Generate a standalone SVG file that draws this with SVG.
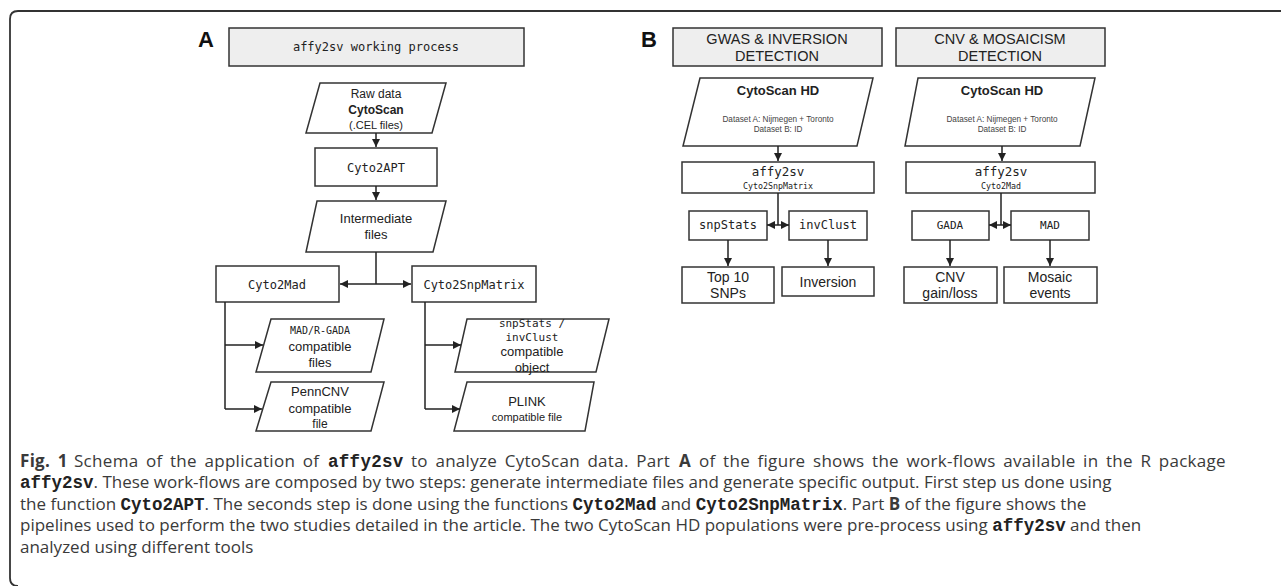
<svg xmlns="http://www.w3.org/2000/svg" width="1281" height="586" viewBox="0 0 1281 586">
<style>
.box{fill:#fff;stroke:#333;stroke-width:1.5}
.tbox{fill:#eee;stroke:#333;stroke-width:1.5}
.ln{fill:none;stroke:#222;stroke-width:1.5}
.s{font-family:"Liberation Sans",Arial,sans-serif;fill:#222;text-anchor:middle}
.m{font-family:"DejaVu Sans Mono","Liberation Mono",monospace;fill:#222;text-anchor:middle}
.b{font-weight:bold}
.g{fill:#444}
.cap{font-family:"Open Sans","Noto Sans",sans-serif;font-size:17px;fill:#3a3a3a}
.cm{font-family:"Liberation Mono","Courier New",monospace;font-weight:bold;font-size:17.5px;fill:#222}
</style>
<defs>
<marker id="ar" markerWidth="8" markerHeight="8" refX="8" refY="4" orient="auto" markerUnits="userSpaceOnUse"><path d="M0,0 L8,4 L0,8 z" fill="#222"/></marker>
</defs>
<path d="M1290,11 H18 Q10,11 10,19 V578 Q10,586 18,586" fill="none" stroke="#333" stroke-width="1.8"/>

<text x="198" y="47" font-family="Liberation Sans,Arial,sans-serif" font-weight="bold" font-size="22" fill="#111">A</text>
<text x="641" y="47" font-family="Liberation Sans,Arial,sans-serif" font-weight="bold" font-size="22" fill="#111">B</text>

<g id="titleA"><rect class="tbox" x="229" y="28" width="295" height="38"/><text class="m" x="376" y="51" font-size="12">affy2sv working process</text></g>
<g id="rawdata"><polygon class="box" points="320,83 446,83 432,133 306,133"/><text class="s" x="376" y="98" font-size="12">Raw data</text><text class="s b" x="376" y="114" font-size="12">CytoScan</text><text class="s" x="376" y="129" font-size="11">(.CEL files)</text></g>
<g id="cyto2apt"><rect class="box" x="315" y="148" width="122" height="38"/><text class="m" x="376" y="172" font-size="12">Cyto2APT</text></g>
<g id="intermediate"><polygon class="box" points="317,201 446,201 433,252 306,252"/><text class="s" x="376" y="223" font-size="13">Intermediate</text><text class="s" x="376" y="239" font-size="13">files</text></g>
<g id="cyto2mad"><rect class="box" x="216" y="266" width="123" height="36"/><text class="m" x="277" y="289" font-size="12">Cyto2Mad</text></g>
<g id="cyto2snp"><rect class="box" x="412" y="266" width="124" height="36"/><text class="m" x="474" y="289" font-size="12">Cyto2SnpMatrix</text></g>
<g id="madgada"><polygon class="box" points="271,319 384,319 371,372 256,372"/><text class="m" x="320" y="334" font-size="10">MAD/R-GADA</text><text class="s" x="320" y="351" font-size="13">compatible</text><text class="s" x="320" y="367" font-size="13">files</text></g>
<g id="penncnv"><polygon class="box" points="271,382 384,382 371,431 256,431"/><text class="s" x="320" y="396" font-size="13">PennCNV</text><text class="s" x="320" y="413" font-size="13">compatible</text><text class="s" x="320" y="428" font-size="12">file</text></g>
<g id="snpobj"><polygon class="box" points="467,319 609,319 596,372 455,372"/><text class="m" x="532" y="327" font-size="11">snpStats /</text><text class="m" x="532" y="341" font-size="11">invClust</text><text class="s" x="532" y="356" font-size="13">compatible</text><text class="s" x="532" y="372" font-size="13">object</text></g>
<g id="plink"><polygon class="box" points="467,382 594,382 585,431 454,431"/><text class="s" x="527" y="406" font-size="13">PLINK</text><text class="s" x="527" y="421" font-size="11">compatible file</text></g>

<g id="titleB1"><rect class="tbox" x="673" y="28" width="209" height="38"/><text class="s" x="777" y="44" font-size="14.5">GWAS &amp; INVERSION</text><text class="s" x="777" y="61" font-size="14.5">DETECTION</text></g>
<g id="titleB2"><rect class="tbox" x="896" y="28" width="209" height="38"/><text class="s" x="1000" y="44" font-size="14.5">CNV &amp; MOSAICISM</text><text class="s" x="1000" y="61" font-size="14.5">DETECTION</text></g>
<g id="cytohd1"><polygon class="box" points="700,78 873,78 857,146 683,146"/><text class="s b" x="778" y="95" font-size="13">CytoScan HD</text><text class="s g" x="778" y="122" font-size="8.2">Dataset A: Nijmegen + Toronto</text><text class="s g" x="778" y="132" font-size="8.2">Dataset B: ID</text></g>
<g id="cytohd2"><polygon class="box" points="918,78 1095,78 1080,146 905,146"/><text class="s b" x="1002" y="95" font-size="13">CytoScan HD</text><text class="s g" x="1002" y="122" font-size="8.2">Dataset A: Nijmegen + Toronto</text><text class="s g" x="1002" y="132" font-size="8.2">Dataset B: ID</text></g>
<g id="affyB1"><rect class="box" x="682" y="162" width="192" height="31"/><text class="m" x="778" y="176" font-size="12.5">affy2sv</text><text class="m" x="778" y="189" font-size="8.3">Cyto2SnpMatrix</text></g>
<g id="affyB2"><rect class="box" x="906" y="162" width="189" height="31"/><text class="m" x="1001" y="176" font-size="12.5">affy2sv</text><text class="m" x="1001" y="189" font-size="8.3">Cyto2Mad</text></g>
<g id="snpstats"><rect class="box" x="689" y="211" width="78" height="29"/><text class="m" x="728" y="229" font-size="12">snpStats</text></g>
<g id="invclust"><rect class="box" x="789" y="211" width="78" height="29"/><text class="m" x="828" y="229" font-size="12">invClust</text></g>
<g id="gada"><rect class="box" x="912" y="211" width="77" height="29"/><text class="m" x="950" y="229" font-size="11">GADA</text></g>
<g id="mad"><rect class="box" x="1011" y="211" width="78" height="29"/><text class="m" x="1050" y="229" font-size="11">MAD</text></g>
<g id="top10"><rect class="box" x="682" y="267" width="92" height="36"/><text class="s" x="728" y="282" font-size="14">Top 10</text><text class="s" x="728" y="298" font-size="14">SNPs</text></g>
<g id="inversion"><rect class="box" x="782" y="267" width="92" height="29"/><text class="s" x="828" y="287" font-size="14">Inversion</text></g>
<g id="cnv"><rect class="box" x="904" y="267" width="93" height="36"/><text class="s" x="950" y="282" font-size="14">CNV</text><text class="s" x="950" y="298" font-size="14">gain/loss</text></g>
<g id="mosaic"><rect class="box" x="1004" y="267" width="93" height="36"/><text class="s" x="1050" y="282" font-size="14">Mosaic</text><text class="s" x="1050" y="298" font-size="14">events</text></g>

<g id="connectors">
<path class="ln" d="M376,133 V147" marker-end="url(#ar)"/>
<path class="ln" d="M376,186 V200" marker-end="url(#ar)"/>
<path class="ln" d="M376,252 V284"/>
<path class="ln" d="M376,284 H340" marker-end="url(#ar)"/>
<path class="ln" d="M376,284 H411" marker-end="url(#ar)"/>
<path class="ln" d="M225,302 V409"/>
<path class="ln" d="M225,345 H263" marker-end="url(#ar)"/>
<path class="ln" d="M225,409 H262" marker-end="url(#ar)"/>
<path class="ln" d="M425,302 V409"/>
<path class="ln" d="M425,345 H461" marker-end="url(#ar)"/>
<path class="ln" d="M425,409 H460" marker-end="url(#ar)"/>
<path class="ln" d="M778,146 V161" marker-end="url(#ar)"/>
<path class="ln" d="M778,193 V225"/>
<path class="ln" d="M778,225 H767" marker-end="url(#ar)"/>
<path class="ln" d="M778,225 H789" marker-end="url(#ar)"/>
<path class="ln" d="M728,240 V266" marker-end="url(#ar)"/>
<path class="ln" d="M828,240 V266" marker-end="url(#ar)"/>
<path class="ln" d="M1002,146 V161" marker-end="url(#ar)"/>
<path class="ln" d="M1001,193 V225"/>
<path class="ln" d="M1001,225 H989" marker-end="url(#ar)"/>
<path class="ln" d="M1001,225 H1011" marker-end="url(#ar)"/>
<path class="ln" d="M950,240 V266" marker-end="url(#ar)"/>
<path class="ln" d="M1050,240 V266" marker-end="url(#ar)"/>
</g>

<g id="caption">
<text class="cap" y="467" word-spacing="2.8" letter-spacing="0.3"><tspan x="20" font-weight="bold">Fig. 1</tspan> <tspan x="74">Schema of the application of</tspan> <tspan x="328" class="cm">affy2sv</tspan> <tspan x="411">to analyze CytoScan data. Part</tspan> <tspan x="679" font-weight="bold">A</tspan> <tspan x="699">of the figure shows the work-flows available in the R package</tspan></text>
<text class="cap" x="20" y="488"><tspan class="cm">affy2sv</tspan>. These work-flows are composed by two steps: generate intermediate files and generate specific output. First step us done using</text>
<text class="cap" x="20" y="510">the function <tspan class="cm">Cyto2APT</tspan>. The seconds step is done using the functions <tspan class="cm">Cyto2Mad</tspan> and <tspan class="cm">Cyto2SnpMatrix</tspan>. Part <tspan font-weight="bold">B</tspan> of the figure shows the</text>
<text class="cap" x="20" y="531">pipelines used to perform the two studies detailed in the article. The two CytoScan HD populations were pre-process using <tspan class="cm">affy2sv</tspan> and then</text>
<text class="cap" x="20" y="553">analyzed using different tools</text>
</g>
</svg>
